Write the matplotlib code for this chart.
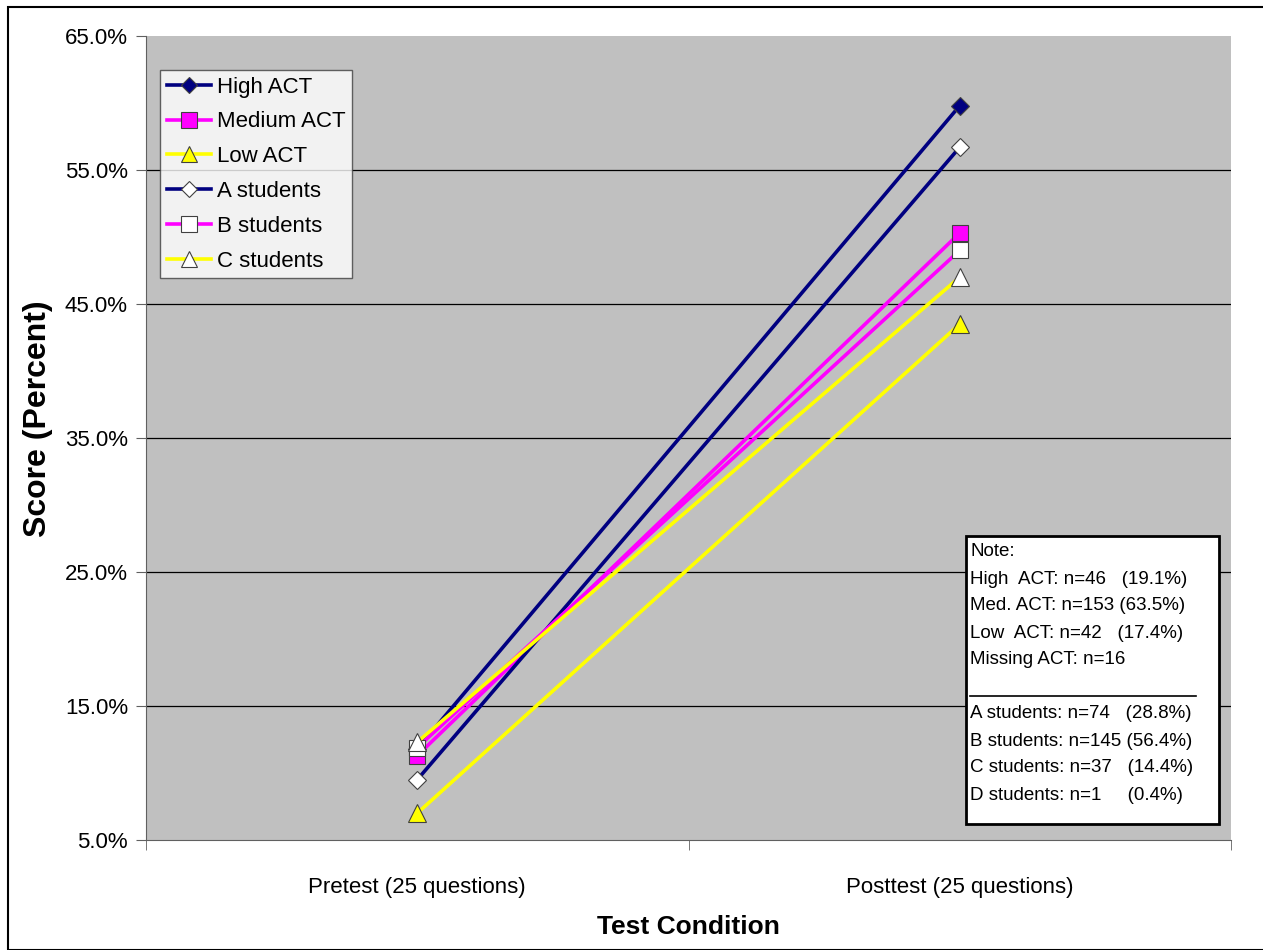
import matplotlib
matplotlib.use("Agg")
import matplotlib.pyplot as plt
from matplotlib.patches import Rectangle
from matplotlib.lines import Line2D

plt.rcParams['font.family'] = ['Liberation Sans', 'DejaVu Sans']

# data (percent)
conditions = ["Pretest (25 questions)", "Posttest (25 questions)"]
high_act = [11.8, 59.8]
medium_act = [11.3, 50.3]
low_act = [7.0, 43.5]
a_students = [9.5, 56.7]
b_students = [11.9, 49.0]
c_students = [12.3, 47.0]

note_lines = [
    "Note:",
    "High  ACT: n=46   (19.1%)",
    "Med. ACT: n=153 (63.5%)",
    "Low  ACT: n=42   (17.4%)",
    "Missing ACT: n=16",
    "",
    "A students: n=74   (28.8%)",
    "B students: n=145 (56.4%)",
    "C students: n=37   (14.4%)",
    "D students: n=1     (0.4%)",
]

NAVY, MAG, YEL = '#000080', '#FF00FF', '#FFFF00'
series = [
    ("High ACT", high_act, NAVY, 'D', NAVY, 9),
    ("Medium ACT", medium_act, MAG, 's', MAG, 11.5),
    ("Low ACT", low_act, YEL, '^', YEL, 12.5),
    ("A students", a_students, NAVY, 'D', 'white', 9),
    ("B students", b_students, MAG, 's', 'white', 11.5),
    ("C students", c_students, YEL, '^', 'white', 12.5),
]

W, H = 1263, 950
fig = plt.figure(figsize=(W / 100, H / 100), dpi=100)
fig.patches.append(Rectangle((8 / W, 0), 1.2, (H - 7) / H, transform=fig.transFigure,
                             fill=False, ec='black', lw=1.5))

ax = fig.add_axes([146 / W, 110 / H, 1085 / W, 804 / H])
ax.set_facecolor('#C0C0C0')
x = list(range(len(conditions)))

for name, vals, col, mk, face, ms in series:
    ax.plot(x, vals, color=col, lw=2.6, marker=mk, ms=ms, mfc=face,
            mec='#404040', mew=0.8, label=name, clip_on=False)

ax.set_xlim(-0.5, 1.5)
ax.set_ylim(5, 65)
ax.set_yticks(range(5, 66, 10))
ax.set_yticklabels([f"{v:.1f}%" for v in range(5, 66, 10)])
for v in range(15, 65, 10):
    ax.axhline(v, color='black', lw=0.9, zorder=0.5)

ax.set_xticks(x)
ax.set_xticklabels(conditions)
ax.set_xticks([-0.5, 0.5, 1.5], minor=True)
ax.tick_params(axis='x', which='major', length=0, pad=27, labelsize=16)
ax.tick_params(axis='x', which='minor', length=7, color='#606060', direction='out')
ax.tick_params(axis='y', length=7, color='#606060', labelsize=16, pad=6)
for s in ['top', 'right']:
    ax.spines[s].set_visible(False)
for s in ['left', 'bottom']:
    ax.spines[s].set_color('#606060')

ax.set_ylabel("Score (Percent)", fontsize=23, fontweight='bold')
ax.yaxis.set_label_coords(-93 / 1085, 0.5 + 19 / 804)
ax.set_xlabel("Test Condition", fontsize=19, fontweight='bold')
ax.xaxis.set_label_coords(0.5, -75 / 804)

leg = ax.legend(loc='upper left', bbox_to_anchor=(14 / 1085, 1 - 34 / 804),
                fontsize=16, frameon=True, fancybox=False, handlelength=2.0,
                handletextpad=0.25, labelspacing=0.62, borderpad=0.3,
                borderaxespad=0, markerscale=0.95)
leg.get_frame().set_edgecolor('#404040')
leg.get_frame().set_linewidth(1)

# note box
bx0, by0, bx1, by1 = 966, 536, 1219, 824
fig.patches.append(Rectangle((bx0 / W, 1 - by1 / H), (bx1 - bx0) / W, (by1 - by0) / H,
                             transform=fig.transFigure, fc='white', ec='black', lw=2,
                             zorder=5))
ys = [552, 579, 606, 633, 660, 687, 714, 741, 768, 795]
for txt, yy in zip(note_lines, ys):
    if txt:
        fig.text(970 / W, 1 - yy / H, txt, fontsize=13.5, va='center', ha='left',
                 zorder=6)
fig.lines.append(Line2D([970 / W, 1196 / W], [1 - 696 / H] * 2, transform=fig.transFigure,
                        color='black', lw=1.2, zorder=6))

fig.savefig("out.png", dpi=100)
